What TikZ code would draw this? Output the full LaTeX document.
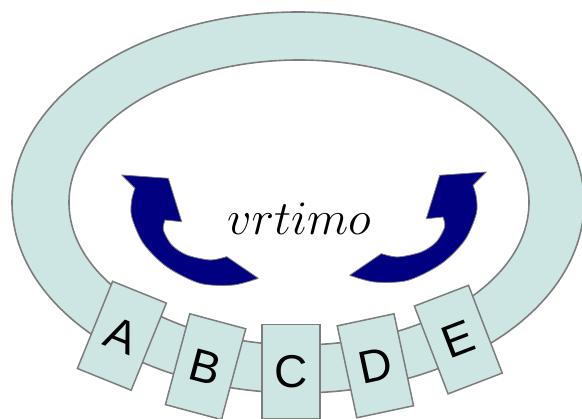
\RequirePackage{fix-cm}
\documentclass[tikz,border=0pt]{standalone}
\usepackage{fontspec}
\newfontfamily\labelfont{Liberation Sans}
\definecolor{ringfill}{RGB}{206,230,227}
\definecolor{edgegray}{RGB}{125,125,125}
\definecolor{navyblue}{RGB}{0,0,128}
\tikzset{
  ringstyle/.style={fill=ringfill, draw=edgegray, line width=1.6pt, even odd rule},
  cell/.style={draw=edgegray, fill=ringfill, line width=1.5pt, minimum width=58pt, minimum height=94pt, inner sep=0pt, font=\labelfont\fontsize{46}{50}\selectfont},
  arrowfill/.style={fill=navyblue, draw=edgegray, line width=0.8pt, line join=round},
  curvarrow/.pic={
    \filldraw[arrowfill] (121.7,175) -- (168.3,178.3) -- (181.7,221.7)
      -- plot[smooth] coordinates {(165,220) (163.3,230) (171.7,245) (186.7,255) (210,260) (226.7,256.7)}
      -- (258.3,278.3)
      -- plot[smooth] coordinates {(258.3,278.3) (233.3,285) (200,283.3) (166.7,266.7) (143.3,243.3) (131.7,216.7) (131.7,200) (135,188.3)}
      -- cycle;
  }
}
\begin{document}
\begin{tikzpicture}[x=1pt,y=-1pt]
\clip (0,0) rectangle (582,419);
\useasboundingbox (0,0) rectangle (582,419);
% ring
\path[ringstyle] (298,202.5) ellipse [x radius=286, y radius=190.5]
                 (299,202.5) ellipse [x radius=230, y radius=142.5];
% boxes
\node[cell, rotate=-22] (A) at (121.9,335.8) {A};
\node[cell, rotate=-15] (B) at (205.6,366.7) {B};
\node[cell] (C) at (291,371.5) {C};
\node[cell, rotate=12] (D) at (375.4,365.8) {D};
\node[cell, rotate=21] (E) at (458.3,339.6) {E};
% arrows
\path (0,0) pic {curvarrow};
\path (608,-3) pic[xscale=-1] {curvarrow};
% label
\node[anchor=base, inner sep=0pt] (lbl) at (299,235) {\fontsize{48}{56}\selectfont $vrtimo$};
\end{tikzpicture}
\end{document}
